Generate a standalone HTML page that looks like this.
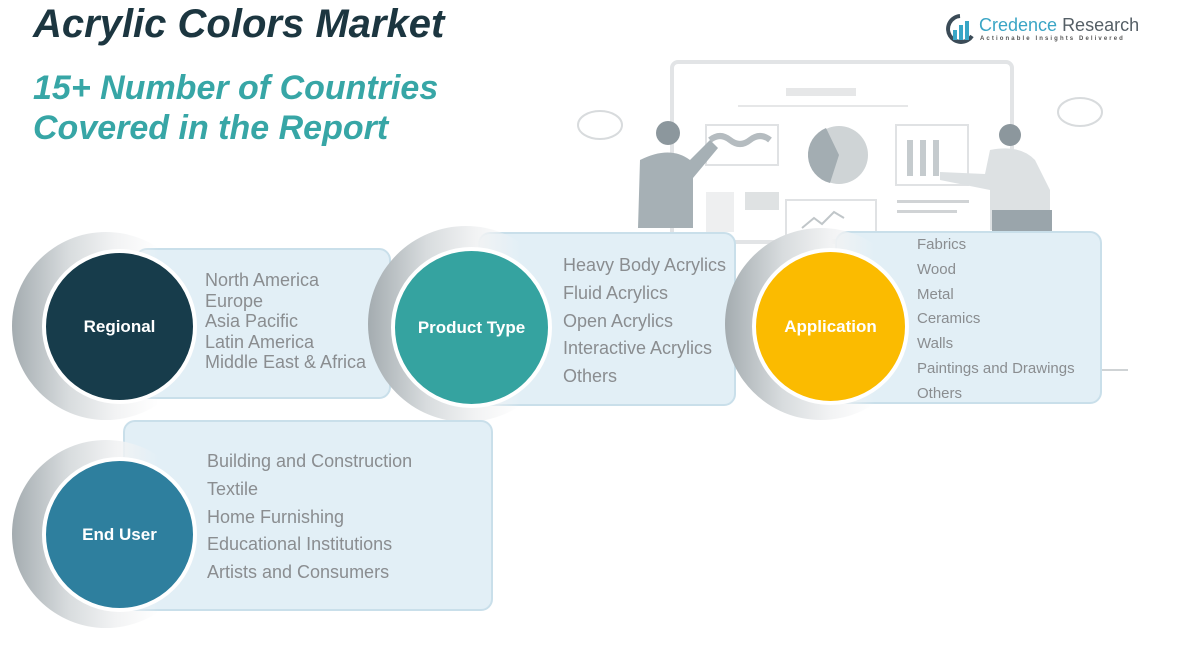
<!DOCTYPE html>
<html><head><meta charset="utf-8"><style>
body{margin:0;width:1201px;height:657px;background:#fff;position:relative;overflow:hidden;font-family:"Liberation Sans",sans-serif}
.a{position:absolute}
.box{position:absolute;background:#e2eff6;border:2px solid #c9dfea;border-radius:12px;box-sizing:border-box}
.ring{position:absolute;border-radius:50%;background:linear-gradient(90deg,#a4acb0 0%,#d8dcde 30%,#f2f3f4 55%,rgba(255,255,255,0) 78%)}
.c{position:absolute;border-radius:50%;border:4px solid #fff;box-sizing:border-box;color:#fff;font-weight:bold;font-size:17px;display:flex;align-items:center;justify-content:center}
.t{position:absolute;color:#8a8d90;font-size:18px;white-space:nowrap}
</style></head><body>
<svg class="a" style="left:0;top:0" width="1201" height="657">
<rect x="672" y="62" width="340" height="180" rx="6" fill="none" stroke="#e2e4e6" stroke-width="4"/>
<rect x="786" y="88" width="70" height="8" fill="#e6e7e8"/>
<rect x="738" y="105" width="170" height="2" fill="#e6e7e8"/>
<rect x="706" y="125" width="72" height="40" fill="none" stroke="#e0e2e4" stroke-width="2"/>
<path d="M710 140 q10-8 20 0 t20 0 t20 0" stroke="#b5bcc0" stroke-width="6" fill="none"/>
<circle cx="839" cy="155" r="29" fill="#cfd4d6"/><path d="M839 155 L826 128 A29 29 0 0 0 830 183Z" fill="#a3adb2"/>
<rect x="896" y="125" width="72" height="60" fill="none" stroke="#e0e2e4" stroke-width="2"/>
<rect x="907" y="140" width="6" height="36" fill="#c5cbce"/><rect x="920" y="140" width="6" height="36" fill="#c5cbce"/><rect x="933" y="140" width="6" height="36" fill="#c5cbce"/>
<rect x="897" y="200" width="72" height="3" fill="#d0d3d5"/><rect x="897" y="210" width="60" height="3" fill="#d0d3d5"/>
<rect x="706" y="192" width="28" height="40" fill="#eeeff0"/><rect x="745" y="192" width="34" height="18" fill="#dfe2e3"/>
<rect x="786" y="200" width="90" height="40" fill="none" stroke="#e0e2e4" stroke-width="2"/>
<path d="M802 228 l12-10 8 6 12-12 10 6" stroke="#c0c6c9" stroke-width="2" fill="none"/>
<ellipse cx="600" cy="125" rx="22" ry="14" fill="none" stroke="#d8dbdd" stroke-width="2"/>
<ellipse cx="1080" cy="112" rx="22" ry="14" fill="none" stroke="#d8dbdd" stroke-width="2"/>
<circle cx="668" cy="133" r="12" fill="#8c979d"/>
<path d="M640 160 q30-15 50 0 l20-20 8 8 -25 30 v50 h-55z" fill="#a6b0b5"/>
<circle cx="1010" cy="135" r="11" fill="#8c979d"/>
<path d="M990 150 q30-6 45 10 l15 30 v40 h-60 v-40 l-50-10 v-8 l45 2z" fill="#dde1e3"/>
<rect x="992" y="210" width="60" height="22" fill="#9aa5ab"/>
<line x1="1100" y1="370" x2="1128" y2="370" stroke="#cfd3d5" stroke-width="2"/>
</svg>
<div class="a" style="left:33px;top:2px;font-size:40px;font-weight:bold;font-style:italic;color:#1c3640">Acrylic Colors Market</div>
<div class="a" style="left:33px;top:68px;font-size:34px;font-weight:bold;font-style:italic;color:#37a6a6;line-height:40px">15+ Number of Countries<br>Covered in the Report</div>
<svg class="a" style="left:945px;top:14px" width="30" height="32"><path d="M15 2 A13 13 0 1 0 27 22" fill="none" stroke="#3b4b57" stroke-width="4"/><rect x="8" y="16" width="4" height="10" fill="#37a6c6"/><rect x="14" y="11" width="4" height="15" fill="#37a6c6"/><rect x="20" y="7" width="4" height="19" fill="#37a6c6"/></svg>
<div class="a" style="left:979px;top:15px;font-size:18px;color:#3aa5c5">Credence <span style="color:#555f66">Research</span></div>
<div class="a" style="left:980px;top:36px;font-size:6px;letter-spacing:2.1px;color:#555;font-weight:bold">Actionable Insights Delivered</div>

<div class="box" style="left:135px;top:248px;width:256px;height:151px"></div>
<div class="ring" style="left:12px;top:232px;width:188px;height:188px"></div>
<div class="c" style="left:42px;top:249px;width:155px;height:155px;background:#173c4b">Regional</div>
<div class="t" style="left:205px;top:270px;line-height:20.5px">North America<br>Europe<br>Asia Pacific<br>Latin America<br>Middle East &amp; Africa</div>

<div class="box" style="left:478px;top:232px;width:258px;height:174px"></div>
<div class="ring" style="left:368px;top:226px;width:196px;height:196px"></div>
<div class="c" style="left:391px;top:247px;width:161px;height:161px;background:#35a3a0">Product Type</div>
<div class="t" style="left:563px;top:252px;line-height:27.8px">Heavy Body Acrylics<br>Fluid Acrylics<br>Open Acrylics<br>Interactive Acrylics<br>Others</div>

<div class="box" style="left:835px;top:231px;width:267px;height:173px"></div>
<div class="ring" style="left:725px;top:228px;width:192px;height:192px"></div>
<div class="c" style="left:752px;top:248px;width:157px;height:157px;background:#fbbb00">Application</div>
<div class="t" style="left:917px;top:233px;line-height:24.8px;font-size:15px">Fabrics<br>Wood<br>Metal<br>Ceramics<br>Walls<br>Paintings and Drawings<br>Others</div>

<div class="box" style="left:123px;top:420px;width:370px;height:191px"></div>
<div class="ring" style="left:12px;top:440px;width:188px;height:188px"></div>
<div class="c" style="left:42px;top:457px;width:155px;height:155px;background:#2e7f9e">End User</div>
<div class="t" style="left:207px;top:448px;line-height:27.8px">Building and Construction<br>Textile<br>Home Furnishing<br>Educational Institutions<br>Artists and Consumers</div>
</body></html>
